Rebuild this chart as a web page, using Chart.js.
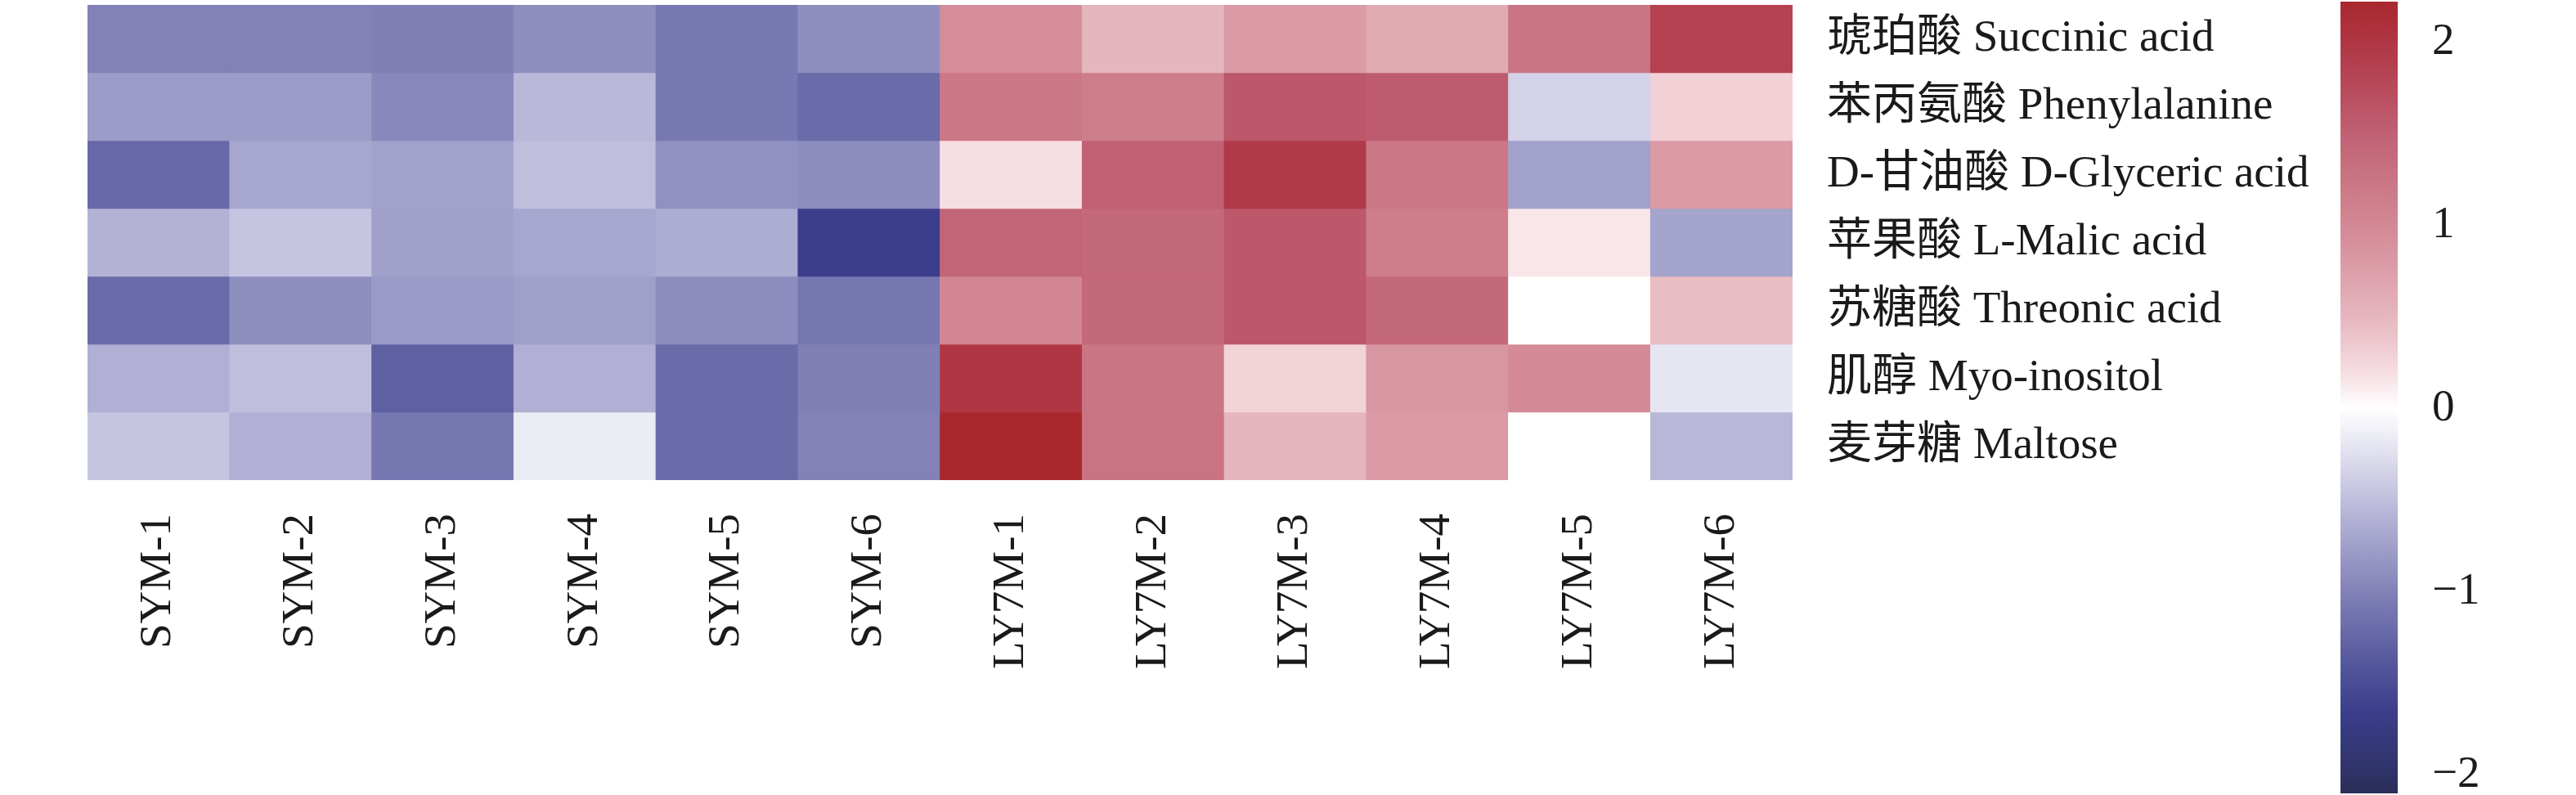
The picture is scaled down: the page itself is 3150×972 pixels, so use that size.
<!DOCTYPE html>
<html>
<head>
<meta charset="utf-8">
<script src="https://cdn.jsdelivr.net/npm/chart.js@4.4.1/dist/chart.umd.min.js"></script>
<style>
  html, body { margin: 0; padding: 0; background: #fff; }
  body { width: 3150px; height: 972px; position: relative; overflow: hidden; }
  #heat { position: absolute; left: 0; top: 0; }
  #bar { position: absolute; left: 2800px; top: 0; }
</style>
</head>
<body>
<canvas id="heat" width="2860" height="972"></canvas>
<canvas id="bar" width="350" height="972"></canvas>
<script>
// samples (columns) and metabolites (rows)
const samples = ["SYM-1", "SYM-2", "SYM-3", "SYM-4", "SYM-5", "SYM-6",
                 "LY7M-1", "LY7M-2", "LY7M-3", "LY7M-4", "LY7M-5", "LY7M-6"];
const metabolites = [
  "琥珀酸 Succinic acid",
  "苯丙氨酸 Phenylalanine",
  "D-甘油酸 D-Glyceric acid",
  "苹果酸 L-Malic acid",
  "苏糖酸 Threonic acid",
  "肌醇 Myo-inositol",
  "麦芽糖 Maltose"
];

// scaled values, one array per metabolite
const succinic      = [-1.00, -1.00, -1.02, -0.90, -1.08, -0.90, 0.95, 0.50, 0.80, 0.62, 1.25, 1.85];
const phenylalanine = [-0.78, -0.78, -0.95, -0.55, -1.08, -1.20, 1.22, 1.15, 1.60, 1.55, -0.35, 0.30];
const glyceric      = [-1.22, -0.70, -0.74, -0.50, -0.88, -0.92, 0.20, 1.50, 1.95, 1.22, -0.74, 0.80];
const malic         = [-0.60, -0.45, -0.75, -0.70, -0.65, -1.65, 1.45, 1.40, 1.60, 1.15, 0.15, -0.72];
const threonic      = [-1.20, -0.90, -0.80, -0.76, -0.92, -1.10, 1.02, 1.40, 1.60, 1.40, 0.00, 0.45];
const inositol      = [-0.62, -0.50, -1.30, -0.62, -1.20, -1.02, 2.00, 1.25, 0.28, 0.85, 0.97, -0.20];
const maltose       = [-0.45, -0.62, -1.10, -0.15, -1.20, -1.00, 2.22, 1.27, 0.50, 0.80, 0.00, -0.56];
const rows = [succinic, phenylalanine, glyceric, malic, threonic, inositol, maltose];

// colour bar range and ticks
const cbMin = -2.10;
const cbMax = 2.22;
const cbTicks = [-2, -1, 0, 1, 2];

// colour map stops
const stopValues = [-2.10, -2.0, -1.65, -1.3, -1.0, -0.75, -0.5, -0.2, 0, 0.2, 0.5, 0.8, 1.0, 1.25, 1.5, 1.75, 2.0, 2.22];
const stopColors = ["#2b2e57", "#2e3266", "#3c3e8c", "#5e60a2", "#8282b8", "#a0a0ca", "#c0bedd", "#e6e6f2", "#ffffff",
                    "#f6dde2", "#e6b6be", "#da9aa6", "#d38894", "#ca7584", "#c06174", "#b74a5a", "#b03644", "#a8282e"];

const FONT = "'Liberation Serif', 'Noto Sans CJK SC', serif";
const INK = "#1a1a1a";

function hexToRgb(h) {
  return [parseInt(h.slice(1, 3), 16), parseInt(h.slice(3, 5), 16), parseInt(h.slice(5, 7), 16)];
}

function colorFor(v) {
  if (v <= stopValues[0]) return stopColors[0];
  for (let i = 1; i < stopValues.length; i++) {
    if (v <= stopValues[i]) {
      const t = (v - stopValues[i - 1]) / (stopValues[i] - stopValues[i - 1]);
      const a = hexToRgb(stopColors[i - 1]), b = hexToRgb(stopColors[i]);
      const c = a.map((x, k) => Math.round(x + (b[k] - x) * t));
      return `rgb(${c[0]},${c[1]},${c[2]})`;
    }
  }
  return stopColors[stopColors.length - 1];
}

// vertical axes add half a label + padding above/below; we don't want that
function noVerticalPadding(scale) {
  scale.paddingTop = 0;
  scale.paddingBottom = 0;
}

Chart.defaults.animation = false;

// heatmap: one floating-bar dataset per row, overlapping (grouped: false)
const datasets = rows.map((vals, r) => ({
  data: samples.map(() => [r, r + 1]),
  backgroundColor: vals.map(colorFor),
  borderWidth: 0,
  grouped: false,
  barPercentage: 1,
  categoryPercentage: 1,
  yAxisID: "y"
}));

new Chart(document.getElementById("heat"), {
  type: "bar",
  data: { labels: samples, datasets },
  options: {
    responsive: false,
    devicePixelRatio: 1,
    layout: { padding: { left: 107, top: 6, right: 0, bottom: 0 } },
    plugins: { legend: { display: false }, tooltip: { enabled: false } },
    scales: {
      x: {
        grid: { display: false, drawTicks: false },
        border: { display: false },
        ticks: {
          autoSkip: false, minRotation: 90, maxRotation: 90, padding: 41,
          color: INK, font: { family: FONT, size: 55 }
        },
        afterFit(scale) { scale.height = 385; }
      },
      y: {
        display: false, reverse: true, min: 0, max: rows.length
      },
      rowLabels: {
        type: "category",
        labels: metabolites,
        position: "right",
        offset: true,
        grid: { display: false, drawTicks: false },
        border: { display: false },
        ticks: { padding: 42, color: INK, font: { family: FONT, size: 55 } },
        afterFit(scale) { scale.width = 668; noVerticalPadding(scale); }
      }
    }
  }
});

// colour bar: a single floating bar filled with the colour map gradient
new Chart(document.getElementById("bar"), {
  type: "bar",
  data: {
    labels: [""],
    datasets: [{
      data: [[cbMin, cbMax]],
      borderWidth: 0,
      barPercentage: 1,
      categoryPercentage: 1,
      backgroundColor(ctx) {
        const { chart } = ctx;
        const area = chart.chartArea;
        if (!area) return "#fff";
        const y = chart.scales.y;
        const g = chart.ctx.createLinearGradient(0, y.getPixelForValue(cbMin), 0, y.getPixelForValue(cbMax));
        stopValues.forEach((v, i) => g.addColorStop((v - cbMin) / (cbMax - cbMin), stopColors[i]));
        return g;
      }
    }]
  },
  options: {
    responsive: false,
    devicePixelRatio: 1,
    layout: { padding: { left: 62, top: 2, bottom: 2, right: 0 } },
    plugins: { legend: { display: false }, tooltip: { enabled: false } },
    scales: {
      x: { display: false },
      y: {
        position: "right",
        min: cbMin, max: cbMax,
        grid: { display: false, drawTicks: false },
        border: { display: false },
        afterBuildTicks(scale) { scale.ticks = cbTicks.map(v => ({ value: v })); },
        ticks: {
          padding: 42, color: INK, font: { family: FONT, size: 55 },
          callback: v => (v < 0 ? "\u2212" + Math.abs(v) : String(v))
        },
        afterFit(scale) { scale.width = 218; noVerticalPadding(scale); }
      }
    }
  }
});
</script>
</body>
</html>
